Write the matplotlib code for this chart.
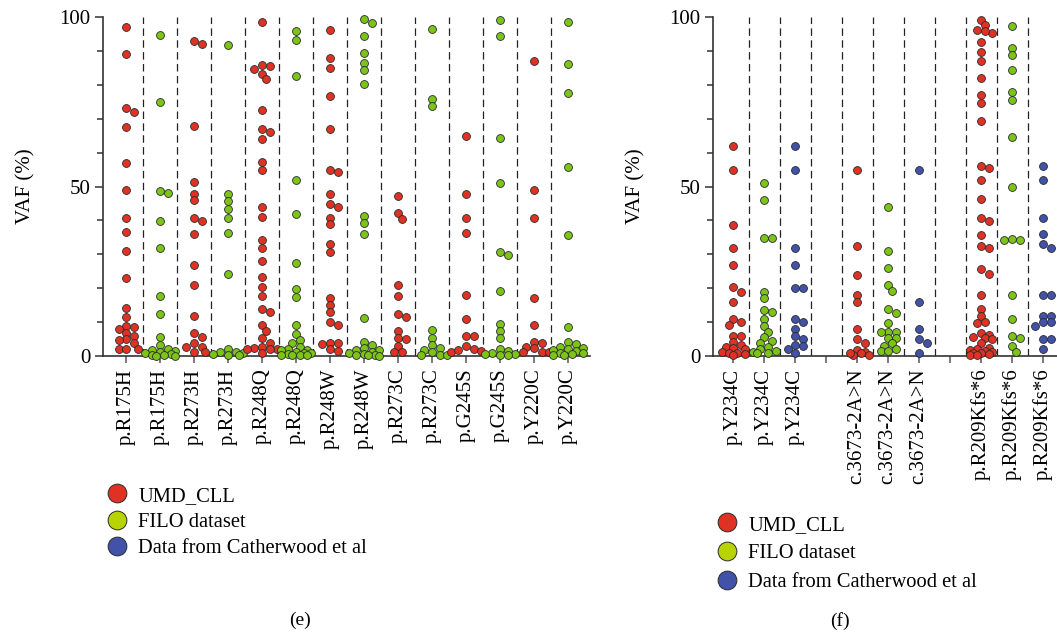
import numpy as np
import matplotlib.pyplot as plt
from matplotlib.lines import Line2D

plt.rcParams['font.family'] = ['Liberation Serif', 'DejaVu Serif']

RED = '#E03224'
GREEN = '#7CC417'
BLUE = '#4152A8'
LEG_GREEN = '#B8D400'

# ---- panel (e) ----
e_labels = ['p.R175H', 'p.R175H', 'p.R273H', 'p.R273H', 'p.R248Q', 'p.R248Q',
            'p.R248W', 'p.R248W', 'p.R273C', 'p.R273C', 'p.G245S', 'p.G245S',
            'p.Y220C', 'p.Y220C']
e_groups = ['UMD', 'FILO'] * 7

r175h_umd = [97.0, 89.0, 73.1, 71.9, 67.5, 56.9, 48.9, 40.8, 36.7, 30.9, 23.0, 14.1,
             11.4, 8.7, 8.9, 7.9, 6.9, 5.9, 5.1, 4.7, 3.7, 2.0, 2.0, 2.0]
r175h_filo = [94.6, 74.9, 48.8, 48.2, 39.7, 31.9, 17.8, 12.3, 5.7, 3.2,
              2.0, 1.8, 1.5, 1.2, 1.0, 0.5, 0.3, 0.2, 0.1, 0.1]
r273h_umd = [92.9, 91.9, 67.9, 51.2, 47.8, 46.0, 40.8, 39.9, 35.9, 26.9, 20.9, 11.9,
             6.9, 5.5, 3.9, 2.8, 2.8, 1.3, 1.3]
r273h_filo = [91.6, 47.8, 45.7, 43.5, 40.8, 36.4, 24.2, 2.0, 1.3, 1.3, 0.8, 0.6, 0.3, 0.2]
r248q_umd = [98.4, 85.9, 85.6, 84.7, 83.3, 81.8, 72.5, 66.9, 66.2, 64.0, 57.1, 54.9,
             43.9, 40.9, 34.1, 31.8, 27.9, 23.4, 20.5, 17.8, 14.0, 13.1, 9.0, 7.4,
             5.2, 3.9, 2.8, 2.3, 2.0, 2.0, 2.0, 1.0]
r248q_filo = [95.8, 93.3, 82.7, 52.0, 41.8, 27.4, 19.7, 17.5, 9.2, 6.4, 4.7, 3.7,
              2.7, 2.2, 1.8, 1.7, 1.3, 1.0, 0.8, 0.6, 0.3, 0.3, 0.2, 0.2]
r248w_umd = [96.1, 87.9, 84.9, 76.7, 66.9, 54.9, 54.4, 47.8, 44.9, 43.9, 40.8, 38.9,
             33.0, 30.6, 17.0, 15.0, 12.9, 9.9, 9.2, 3.9, 3.4, 3.9, 2.0, 1.5]
r248w_filo = [99.5, 98.2, 94.5, 89.4, 86.4, 84.4, 80.2, 41.3, 39.2, 35.9, 11.1, 4.2, 3.2,
              2.3, 1.8, 1.8, 1.3, 1.0, 0.6, 0.3, 0.3, 0.3, 0.1]
r273c_umd = [47.3, 42.1, 40.5, 21.0, 17.7, 11.6, 12.4, 7.4, 5.2, 4.9, 3.0, 1.3, 1.3]
r273c_filo = [96.6, 75.8, 73.8, 7.7, 5.2, 3.2, 2.3, 1.8, 1.3, 0.3, 0.3, 0.3]
g245s_umd = [65.0, 47.8, 40.8, 36.2, 17.9, 11.0, 5.9, 5.9, 3.0, 2.0, 1.6, 1.3, 1.8]
g245s_filo = [99.2, 94.5, 64.3, 50.9, 30.6, 29.8, 19.2, 9.4, 7.4, 5.4,
              2.0, 1.5, 1.0, 0.6, 0.3, 0.6, 0.2]
y220c_umd = [86.9, 49.0, 40.8, 17.0, 9.0, 4.2, 3.9, 2.8, 2.3, 1.3, 1.3, 1.3]
y220c_filo = [98.5, 86.1, 77.5, 55.7, 35.7, 8.7, 4.0, 3.4, 2.8, 2.5, 2.0, 1.8, 1.5,
              1.0, 0.8, 0.6, 0.3, 0.2]

e_values = [r175h_umd, r175h_filo, r273h_umd, r273h_filo, r248q_umd, r248q_filo,
            r248w_umd, r248w_filo, r273c_umd, r273c_filo, g245s_umd, g245s_filo,
            y220c_umd, y220c_filo]

# ---- panel (f) ----
f_labels = ['p.Y234C', 'p.Y234C', 'p.Y234C', '', 'c.3673-2A>N', 'c.3673-2A>N',
            'c.3673-2A>N', '', 'p.R209Kfs*6', 'p.R209Kfs*6', 'p.R209Kfs*6']
f_groups = ['UMD', 'FILO', 'CATH', None, 'UMD', 'FILO', 'CATH', None, 'UMD', 'FILO', 'CATH']

y234c_umd = [61.8, 54.9, 38.6, 31.8, 26.9, 20.3, 18.9, 15.8, 10.9, 9.9, 9.2, 6.0, 6.0,
             4.2, 3.2, 2.8, 2.3, 2.0, 1.3, 1.0, 0.8, 0.5, 0.2]
y234c_filo = [50.9, 46.0, 34.9, 34.9, 18.9, 17.0, 13.1, 13.6, 10.8, 8.9, 7.2, 5.5,
              4.5, 3.9, 2.8, 2.0, 1.6, 1.3, 1.0, 0.8]
y234c_cath = [61.8, 54.9, 31.8, 26.9, 20.0, 20.0, 10.9, 9.9, 7.9, 5.9, 4.9, 3.2, 3.0,
              2.0, 1.0]
c3673_umd = [54.9, 32.4, 23.9, 17.9, 15.9, 7.9, 4.9, 3.9, 1.8, 1.3, 0.8, 0.3, 0.3, 1.0]
c3673_filo = [43.9, 30.9, 25.9, 21.0, 19.3, 13.8, 12.6, 9.8, 7.0, 7.0, 7.0, 5.2, 5.2,
              3.7, 3.0, 1.5, 1.5, 2.0]
c3673_cath = [54.9, 15.9, 7.9, 4.9, 3.9, 1.0]
r209_umd = [99.2, 97.7, 96.3, 95.3, 95.8, 92.5, 89.8, 87.0, 81.9, 76.9, 74.6, 69.3,
            55.9, 55.4, 52.0, 46.2, 40.8, 39.9, 35.8, 32.5, 31.8, 25.6, 24.2, 17.9,
            13.8, 11.8, 10.1, 9.6, 6.7, 6.2, 5.7, 5.2, 4.9, 3.7, 2.3, 2.0, 1.8, 1.5,
            1.2, 1.0, 0.8, 0.5, 0.3, 0.2]
r209_filo = [97.2, 90.8, 88.8, 84.3, 77.9, 75.5, 64.6, 49.9, 34.3, 34.3, 34.5, 17.9,
             10.9, 5.2, 5.9, 3.0, 1.3]
r209_cath = [55.9, 52.0, 40.8, 35.9, 33.0, 31.8, 17.9, 17.9, 11.9, 11.9, 9.9, 9.9,
             8.9, 4.9, 4.9, 2.0]

f_values = [y234c_umd, y234c_filo, y234c_cath, [], c3673_umd, c3673_filo, c3673_cath,
            [], r209_umd, r209_filo, r209_cath]

colors = {'UMD': RED, 'FILO': GREEN, 'CATH': BLUE}


def swarm(vals, diam_px, y_px_per_unit, max_k=6):
    # compact beeswarm: nearest free slot to the centre, overlap allowed when crowded
    order = np.argsort(vals)[::-1]
    placed = []
    offs = np.zeros(len(vals))
    need = diam_px * 0.8
    for i in order:
        y = vals[i] * y_px_per_unit
        best, best_d = 0.0, -1
        chosen = None
        for k in range(max_k + 1):
            cands = [0.0] if k == 0 else [k * diam_px * 0.5, -k * diam_px * 0.5]
            for c in cands:
                d = min([np.hypot(c - px, y - py) for px, py in placed] or [1e9])
                if d >= need:
                    chosen = c
                    break
                if d > best_d:
                    best, best_d = c, d
            if chosen is not None:
                break
        if chosen is None:
            chosen = best
        placed.append((chosen, y))
        offs[i] = chosen
    return offs


def draw_panel(ax, labels, groups, values, xpx, xlim):
    ypx = 339 / 100.0
    diam = 7.6
    for i, (g, v) in enumerate(zip(groups, values)):
        if not v:
            continue
        v = np.array(v)
        off = swarm(v, diam, ypx, max_k=3 if xpx < 32 else 4) / xpx
        ax.scatter(i + off, v, s=32, color=colors[g], edgecolor='#2a2a2a',
                   linewidth=0.6, zorder=3, clip_on=False)
    for i in range(len(labels) - 1):
        ax.axvline(i + 0.5, color='#222222', lw=0.9, dashes=(6, 3.5), zorder=1)
    ax.set_xlim(*xlim)
    ax.set_ylim(0, 100)
    ax.set_xticks(range(len(labels)))
    ax.set_xticklabels(labels, rotation=90, fontsize=15)
    ax.set_yticks([0, 50, 100])
    ax.set_yticks(range(0, 101, 10), minor=True)
    ax.tick_params(axis='y', labelsize=15, length=6, width=1.1, color='#333333', pad=3)
    ax.tick_params(axis='y', which='minor', length=4, width=1.1, color='#333333')
    ax.tick_params(axis='x', length=5, width=1.1, color='#555555', pad=4)
    for s in ['top', 'right']:
        ax.spines[s].set_visible(False)
    for s in ['left', 'bottom']:
        ax.spines[s].set_linewidth(1.2)
        ax.spines[s].set_color('#333333')
    ax.set_ylabel('VAF (%)', fontsize=15, labelpad=17)


fig = plt.figure(figsize=(10.57, 6.35), dpi=100)
ax1 = fig.add_axes([103 / 1057, 1 - 356 / 635, (590 - 103) / 1057, 339 / 635])
ax2 = fig.add_axes([713 / 1057, 1 - 356 / 635, (1057 - 713) / 1057, 339 / 635])

draw_panel(ax1, e_labels, e_groups, e_values, 34.0, (-0.68, 13.65))
draw_panel(ax2, f_labels, f_groups, f_values, 31.0, (-0.65, 10.45))

leg_names = ['UMD_CLL', 'FILO dataset', 'Data from Catherwood et al']
leg_cols = [RED, LEG_GREEN, BLUE]
handles = [Line2D([], [], ls='', marker='o', ms=13.5, mfc=c, mec='#2a2a2a', mew=0.7)
           for c in leg_cols]

fig.legend(handles, leg_names, loc='upper left', bbox_to_anchor=(96 / 1057, 1 - 478 / 635),
           frameon=False, fontsize=14.8, handletextpad=0.45, labelspacing=0.33,
           borderaxespad=0, handlelength=1.2)
fig.legend(handles, leg_names, loc='upper left', bbox_to_anchor=(706 / 1057, 1 - 507 / 635),
           frameon=False, fontsize=14.8, handletextpad=0.45, labelspacing=0.45,
           borderaxespad=0, handlelength=1.2)

fig.text(300 / 1057, 1 - 620 / 635, '(e)', ha='center', va='center', fontsize=14)
fig.text(840 / 1057, 1 - 621 / 635, '(f)', ha='center', va='center', fontsize=14)

fig.savefig('out.png', dpi=100)
